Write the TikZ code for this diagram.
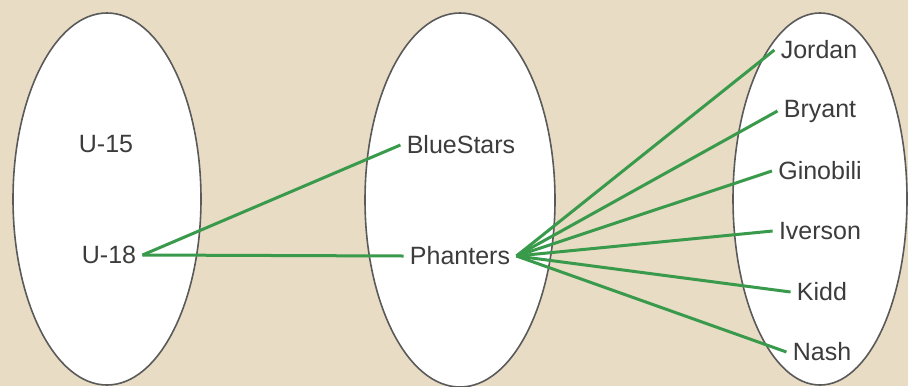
\documentclass[tikz,border=0pt]{standalone}
\usepackage{fontspec}
\setmainfont{Liberation Sans}
\usetikzlibrary{shapes.geometric}
\definecolor{bg}{HTML}{E8DCC5}
\definecolor{edgegreen}{HTML}{3A9A4C}
\definecolor{txt}{HTML}{3C3C3C}
\definecolor{rim}{HTML}{5A5A5A}
\begin{document}
\begin{tikzpicture}[x=0.5pt,y=-0.5pt,
  setbox/.style={ellipse,draw=rim,line width=0.8pt,fill=white,inner sep=0pt},
  lbl/.style={text=txt,font=\fontsize{12.5pt}{14pt}\selectfont,inner sep=3pt},
  link/.style={draw=edgegreen,line width=1.5pt}]
\fill[bg] (0,0) rectangle (908,386);
\useasboundingbox (0,0) rectangle (908,386);
\node[setbox,minimum width=188*0.5pt,minimum height=372*0.5pt] (A) at (107,199) {};
\node[setbox,minimum width=190*0.5pt,minimum height=374*0.5pt] (B) at (460,200) {};
\node[setbox,minimum width=174*0.5pt,minimum height=372*0.5pt] (C) at (820,199) {};
\node[lbl] (u15) at (106,144) {U-15};
\node[lbl] (u18) at (109,255) {U-18};
\node[lbl] (blue) at (461,145) {BlueStars};
\node[lbl] (phan) at (460,256) {Phanters};
\node[lbl] (jor) at (819,50) {Jordan};
\node[lbl] (bry) at (820,111) {Bryant};
\node[lbl] (gin) at (820,171) {Ginobili};
\node[lbl] (ive) at (820,231) {Iverson};
\node[lbl] (kid) at (822,292) {Kidd};
\node[lbl] (nas) at (822,352) {Nash};
\draw[link] (u18.east) -- (blue.west);
\draw[link] (u18.east) -- (phan.west);
\foreach \t in {jor,bry,gin,ive,kid,nas}
  \draw[link] (phan.east) -- (\t.west);
\end{tikzpicture}
\end{document}
